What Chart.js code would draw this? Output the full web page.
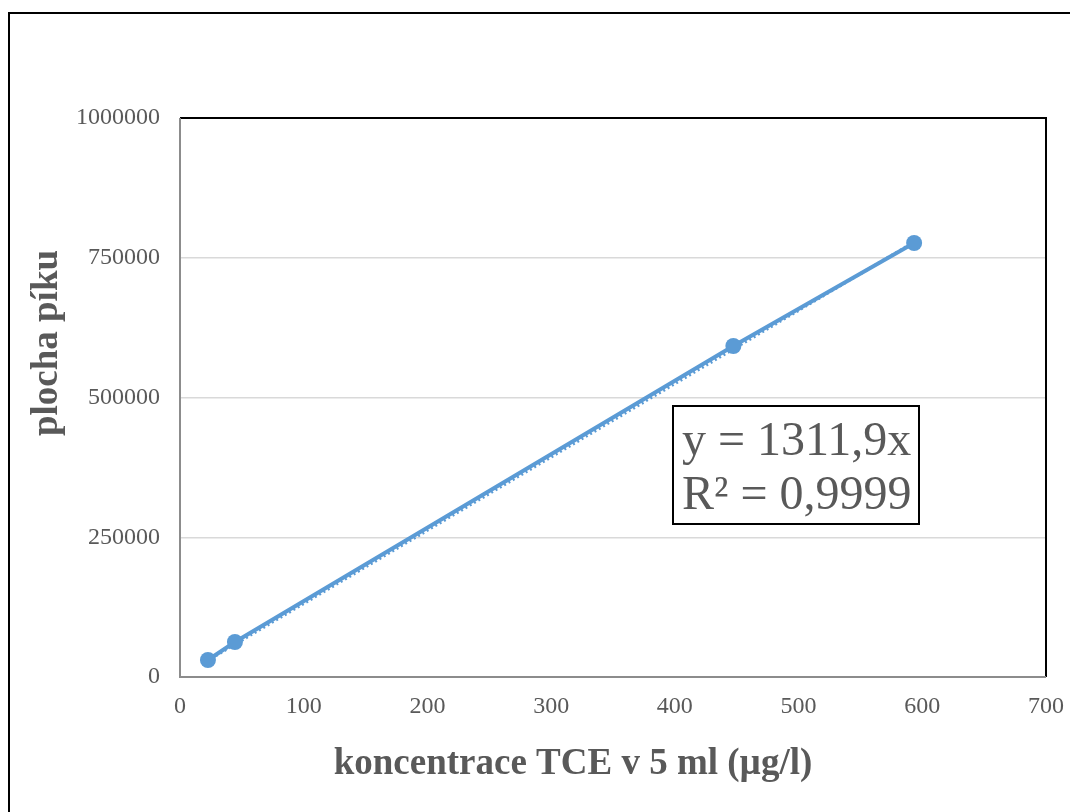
<!DOCTYPE html>
<html>
<head>
<meta charset="utf-8">
<script src="https://cdn.jsdelivr.net/npm/chart.js@4/dist/chart.umd.min.js"></script>
<style>
  html, body { margin: 0; padding: 0; background: #fff; overflow: hidden; }
  #ramec { position: absolute; left: 8px; top: 12px; width: 1200px; height: 900px; border: 2px solid #000; }
  #obal { position: absolute; left: 0; top: 0; width: 1070px; height: 812px; }
</style>
</head>
<body>
<div id="ramec"></div>
<div id="obal"><canvas id="graf"></canvas></div>
<script>
/* ── DATA ── */
const koncentrace = [22.6, 44.4, 447.3, 593.4];
const plocha      = [30400, 62600, 592100, 776400];
const trendX      = [22, 594];
const trendY      = [29000, 779000];
const xTicks      = [0, 100, 200, 300, 400, 500, 600, 700];
const yTicks      = [0, 250000, 500000, 750000, 1000000];
const rovnice     = ["y = 1311,9x", "R\u00b2 = 0,9999"];
const popisX      = "koncentrace TCE v 5 ml (\u00b5g/l)";
const popisY      = "plocha p\u00edku";

const SERIF = "'Liberation Serif', 'Times New Roman', serif";
const MODRA = "#5B9BD5";
const SEDA  = "#595959";

/* ── RÁM, POPISKY, ROVNICE ── */
const dekorace = {
  id: "dekorace",
  afterDraw(chart) {
    const { ctx, chartArea: a } = chart;
    ctx.save();
    // rám plochy grafu
    ctx.lineWidth = 2;
    ctx.strokeStyle = "#000";
    ctx.beginPath();
    ctx.moveTo(a.left, a.top); ctx.lineTo(a.right, a.top); ctx.lineTo(a.right, a.bottom);
    ctx.stroke();
    ctx.strokeStyle = "#8c8c8c";
    ctx.beginPath();
    ctx.moveTo(a.left, a.top); ctx.lineTo(a.left, a.bottom); ctx.lineTo(a.right, a.bottom);
    ctx.stroke();

    // názvy os
    ctx.fillStyle = SEDA;
    ctx.font = "bold 37px " + SERIF;
    ctx.textAlign = "center";
    ctx.textBaseline = "middle";
    ctx.fillText(popisX, 573, 764);
    ctx.translate(47, 343);
    ctx.rotate(-Math.PI / 2);
    ctx.fillText(popisY, 0, 0);
    ctx.restore();

    // rovnice regrese
    ctx.save();
    const bx = 673, by = 406, bw = 246, bh = 118;
    ctx.fillStyle = "#fff";
    ctx.fillRect(bx, by, bw, bh);
    ctx.lineWidth = 2;
    ctx.strokeStyle = "#000";
    ctx.strokeRect(bx, by, bw, bh);
    ctx.fillStyle = SEDA;
    ctx.font = "48px " + SERIF;
    ctx.textAlign = "left";
    ctx.textBaseline = "middle";
    ctx.fillText(rovnice[0], bx + 9, by + 36);
    ctx.fillText(rovnice[1], bx + 9, by + 90);
    ctx.restore();
  }
};

new Chart(document.getElementById("graf"), {
  type: "scatter",
  data: {
    datasets: [
      {
        label: "data",
        data: koncentrace.map((x, i) => ({ x: x, y: plocha[i] })),
        showLine: true,
        borderColor: MODRA,
        backgroundColor: MODRA,
        borderWidth: 4,
        pointRadius: 8,
        pointHoverRadius: 8,
        pointBorderWidth: 0,
        order: 1
      },
      {
        label: "trend",
        data: trendX.map((x, i) => ({ x: x, y: trendY[i] })),
        showLine: true,
        borderColor: MODRA,
        borderWidth: 3,
        borderDash: [2, 3],
        pointRadius: 0,
        order: 2
      }
    ]
  },
  options: {
    responsive: true,
    maintainAspectRatio: false,
    animation: false,
    layout: { padding: { top: 118, right: 24, left: 0, bottom: 0 } },
    plugins: { legend: { display: false }, tooltip: { enabled: false } },
    scales: {
      x: {
        type: "linear", min: 0, max: 700,
        afterFit: s => { s.height = 135; s.paddingLeft = 0; s.paddingRight = 0; },
        afterBuildTicks: s => { s.ticks = xTicks.map(v => ({ value: v })); },
        grid: { display: false, drawTicks: false },
        border: { display: false },
        ticks: { color: SEDA, padding: 15, font: { family: SERIF, size: 24 } }
      },
      y: {
        type: "linear", min: 0, max: 1000000,
        afterFit: s => { s.width = 180; s.paddingTop = 0; s.paddingBottom = 0; },
        afterBuildTicks: s => { s.ticks = yTicks.map(v => ({ value: v })); },
        grid: {
          drawTicks: false,
          lineWidth: 1.5,
          color: c => (c.tick.value === 0 || c.tick.value === 1000000) ? "rgba(0,0,0,0)" : "#D9D9D9"
        },
        border: { display: false },
        ticks: { color: SEDA, padding: 20, font: { family: SERIF, size: 24 }, callback: v => String(v) }
      }
    }
  },
  plugins: [dekorace]
});
</script>
</body>
</html>
